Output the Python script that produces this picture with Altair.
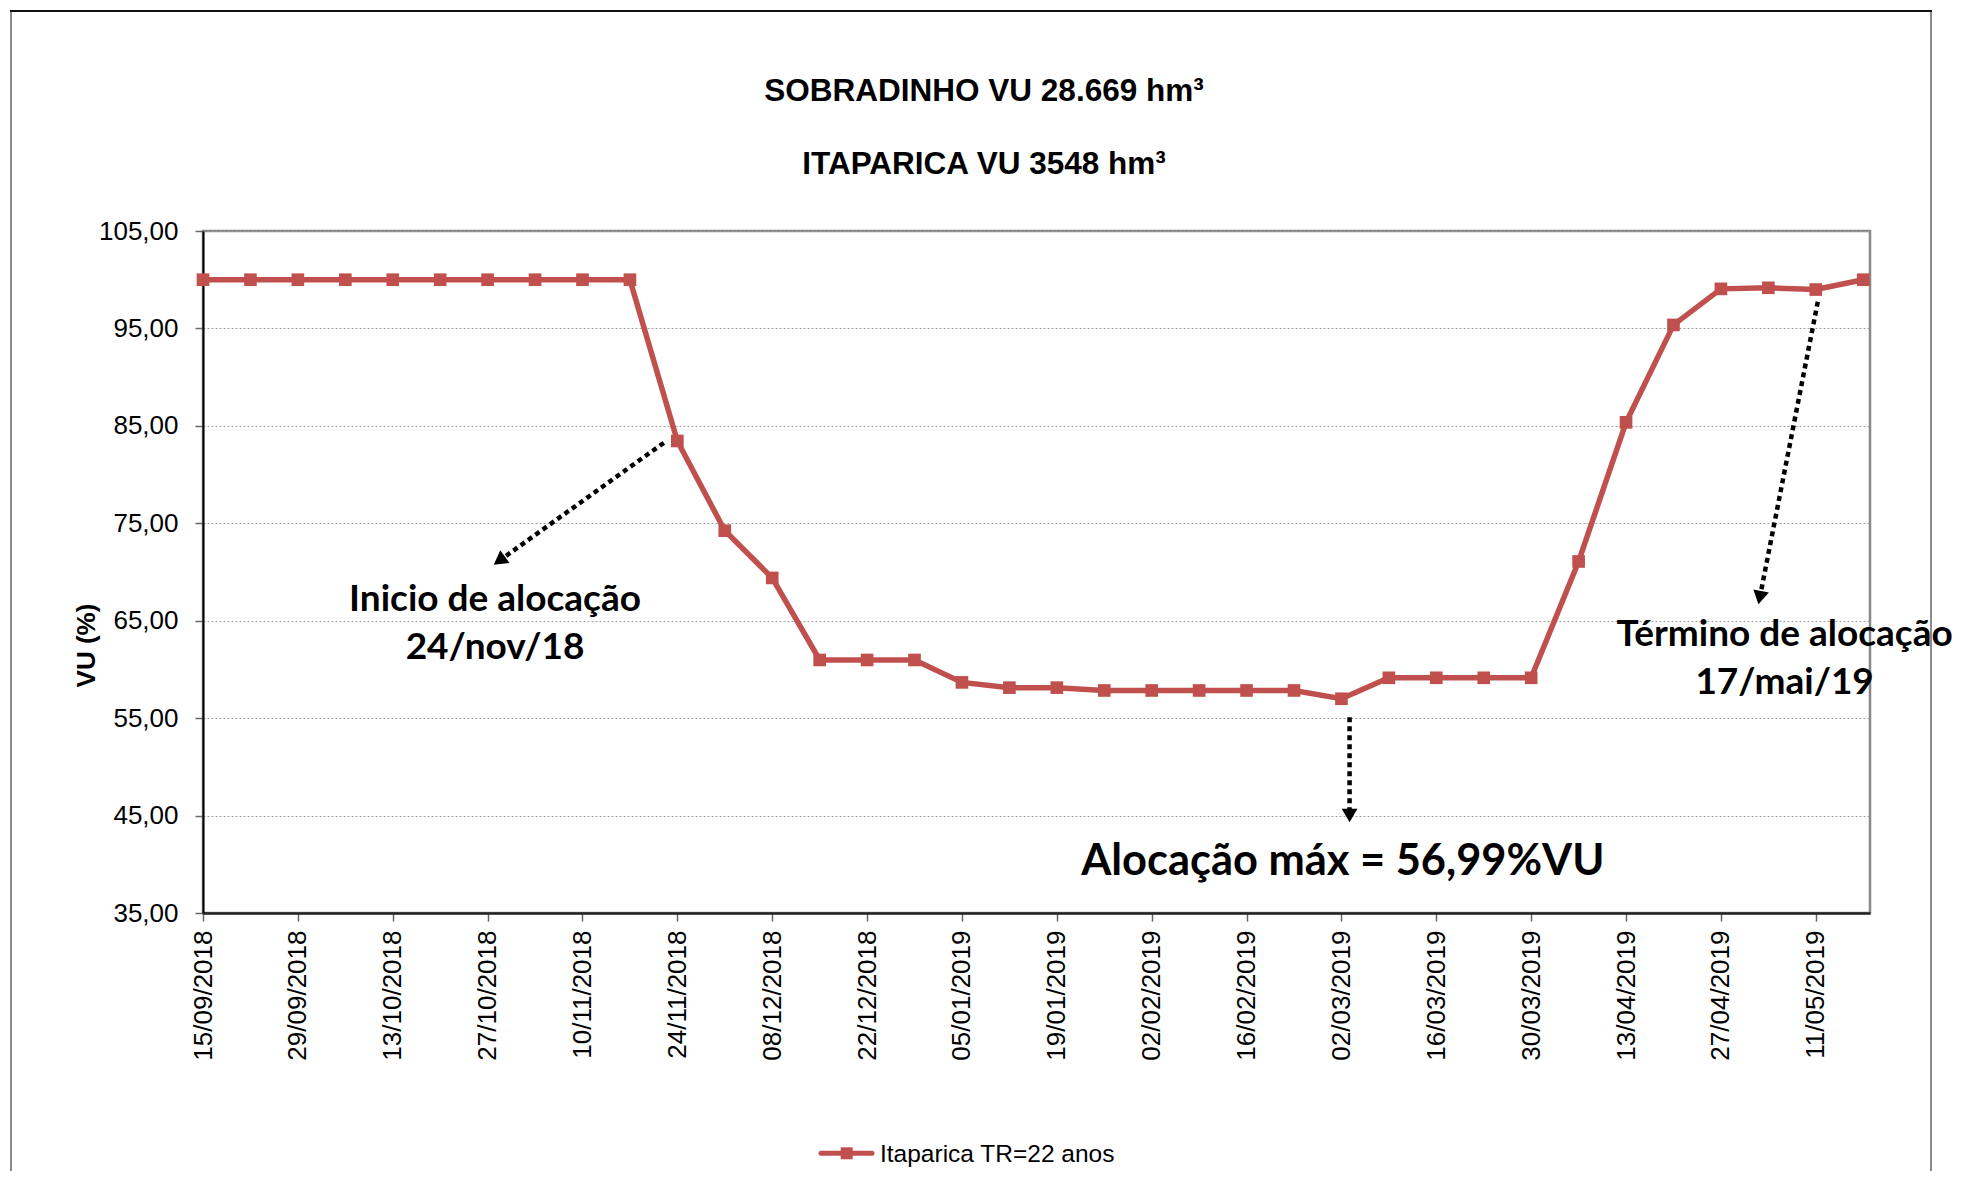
import math
import altair as alt
import pandas as pd

# ---------------- data ----------------
titulo_1 = "SOBRADINHO VU 28.669 hm³"
titulo_2 = "ITAPARICA VU 3548 hm³"
serie = "Itaparica TR=22 anos"
eixo_y = "VU (%)"

datas = [
    "15/09/2018", "22/09/2018", "29/09/2018", "06/10/2018", "13/10/2018", "20/10/2018",
    "27/10/2018", "03/11/2018", "10/11/2018", "17/11/2018", "24/11/2018", "01/12/2018",
    "08/12/2018", "15/12/2018", "22/12/2018", "29/12/2018", "05/01/2019", "12/01/2019",
    "19/01/2019", "26/01/2019", "02/02/2019", "09/02/2019", "16/02/2019", "23/02/2019",
    "02/03/2019", "09/03/2019", "16/03/2019", "23/03/2019", "30/03/2019", "06/04/2019",
    "13/04/2019", "20/04/2019", "27/04/2019", "04/05/2019", "11/05/2019", "18/05/2019",
]
vu = [
    100.0, 100.0, 100.0, 100.0, 100.0, 100.0, 100.0, 100.0, 100.0, 100.0,
    83.45, 74.24, 69.39, 60.97, 60.97, 60.97, 58.67, 58.13, 58.13,
    57.84, 57.84, 57.84, 57.84, 57.84, 56.99,
    59.14, 59.14, 59.14, 59.14, 71.08, 85.36, 95.36, 99.06, 99.17, 98.99, 100.0,
]
rotulos_x = datas[::2]
y_ticks = [35, 45, 55, 65, 75, 85, 95, 105]

# annotations (data coordinates: days since first date, VU %)
ann_textos = ["Inicio de alocação\n24/nov/18", "Término de alocação\n17/mai/19"]
ann_dia = [43.1, 233.4]
ann_vu = [66.0, 62.4]

max_texto = ["Alocação máx = 56,99%VU"]
max_dia = [168.2]
max_vu = [38.9]

seta_dia_ini = [68.0, 169.2, 238.3]
seta_vu_ini = [83.26, 55.1, 97.74]
seta_dia_fim = [44.0, 169.2, 229.8]
seta_vu_fim = [71.3, 45.24, 67.6]

# ---------------- tables ----------------
inicio = pd.to_datetime(datas[0], format="%d/%m/%Y")
dias = [(pd.to_datetime(d, format="%d/%m/%Y") - inicio).days for d in datas]
df = pd.DataFrame({"dia": dias, "vu": vu, "data": datas, "serie": serie})

W, H = 1667, 682
X_MAX = dias[-1] + 1
Y_MIN, Y_MAX = 35, 105
ppd = W / X_MAX
ppu = H / (Y_MAX - Y_MIN)

angulos = []
for a, b, c, d in zip(seta_dia_ini, seta_vu_ini, seta_dia_fim, seta_vu_fim):
    dx = (c - a) * ppd
    dy = -(d - b) * ppu
    angulos.append(math.degrees(math.atan2(dx, -dy)) % 360)

setas = pd.DataFrame({
    "dia": seta_dia_ini, "vu": seta_vu_ini,
    "dia2": seta_dia_fim, "vu2": seta_vu_fim, "ang": angulos,
})
pontas = pd.DataFrame({"dia": seta_dia_fim, "vu": seta_vu_fim, "ang": angulos})
ann_df = pd.DataFrame({"dia": ann_dia, "vu": ann_vu, "texto": ann_textos})
max_df = pd.DataFrame({"dia": max_dia, "vu": max_vu, "texto": max_texto})
um = pd.DataFrame({"serie": [serie], "t1": [titulo_1], "t2": [titulo_2]})

RED = "#C0504D"
x_scale = alt.Scale(domain=[0, X_MAX], nice=False, zero=False)
y_scale = alt.Scale(domain=[Y_MIN, Y_MAX], nice=False, zero=False)

label_expr_x = "[" + ",".join(f"'{d}'" for d in rotulos_x) + "][round(datum.value/14)]"

x_axis = alt.Axis(
    values=list(range(0, dias[-1], 14)), labelExpr=label_expr_x,
    labelAngle=270, labelAlign="right", labelBaseline="middle",
    labelFontSize=26, labelPadding=9, labelColor="black", labelOverlap=False,
    labelFont="Liberation Sans",
    tickSize=8, tickColor="#666666", tickWidth=1.5,
    domainColor="#222222", domainWidth=2.5, grid=False, title=None,
)
y_axis = alt.Axis(
    values=y_ticks, labelExpr="replace(format(datum.value, '.2f'), '.', ',')",
    labelFontSize=26, labelPadding=17, labelColor="black", labelFont="Liberation Sans",
    tickSize=8, tickColor="#666666", tickWidth=1.5,
    domainColor="black", domainWidth=2,
    grid=True, gridColor="#a0a0a0", gridDash=[2, 2], gridWidth=1,
    title=eixo_y, titleFontSize=26, titleFontWeight="bold", titleFont="Liberation Sans",
    titleAngle=270, titleX=-117, titleY=414, titleAlign="center",
    titleBaseline="middle", titleColor="black",
)


def xy(src):
    return dict(
        x=alt.X("dia:Q", scale=x_scale, axis=x_axis),
        y=alt.Y("vu:Q", scale=y_scale, axis=y_axis),
    )


# outer chart frame (decoration)
moldura = alt.Chart(um).mark_rect(fill=None, stroke="#8c8c8c", strokeWidth=2).encode(
    x=alt.value(-192), x2=alt.value(1728), y=alt.value(-220), y2=alt.value(1000)
)
moldura_topo = alt.Chart(um).mark_rule(color="#111111", strokeWidth=2).encode(
    x=alt.value(-193), x2=alt.value(1729), y=alt.value(-220)
)

linha = alt.Chart(df).mark_line(color=RED, strokeWidth=5.5).encode(**xy(df))
pontos = alt.Chart(df).mark_point(
    shape="square", filled=True, size=160, color=RED, opacity=1
).encode(**xy(df))

seta_linhas = alt.Chart(setas).mark_rule(
    color="black", strokeWidth=4.5, strokeDash=[5, 4]
).encode(**xy(setas), x2="dia2:Q", y2="vu2:Q")
seta_pontas = alt.Chart(pontas).mark_point(
    shape="triangle", filled=True, size=250, color="black", opacity=1
).encode(**xy(pontas), angle=alt.Angle("ang:Q", scale=None))

ann = alt.Chart(ann_df).mark_text(
    font="Lato", fontWeight="bold", fontSize=37, lineBreak="\n", lineHeight=48,
    align="center", baseline="alphabetic", color="black",
).encode(**xy(ann_df), text="texto:N")
ann_max = alt.Chart(max_df).mark_text(
    font="Lato", fontWeight="bold", fontSize=43.4,
    align="center", baseline="alphabetic", color="black",
).encode(**xy(max_df), text="texto:N")

# titles
tit1 = alt.Chart(um).mark_text(
    font="Liberation Sans", fontWeight="bold", fontSize=31.5, align="center",
    baseline="alphabetic", color="black",
).encode(x=alt.value(781), y=alt.value(-130), text="t1:N")
tit2 = alt.Chart(um).mark_text(
    font="Liberation Sans", fontWeight="bold", fontSize=31.5, align="center",
    baseline="alphabetic", color="black",
).encode(x=alt.value(781), y=alt.value(-57.5), text="t2:N")

# legend (drawn)
leg_linha = alt.Chart(um).mark_rule(color=RED, strokeWidth=5, strokeCap="round").encode(
    x=alt.value(618), x2=alt.value(669), y=alt.value(922.3)
)
leg_ponto = alt.Chart(um).mark_point(
    shape="square", filled=True, size=144, color=RED, opacity=1
).encode(x=alt.value(643.7), y=alt.value(922.3))
leg_texto = alt.Chart(um).mark_text(
    font="Liberation Sans", fontSize=24.5, align="left", baseline="alphabetic", color="black"
).encode(x=alt.value(677), y=alt.value(930.7), text="serie:N")

chart = alt.layer(
    moldura, moldura_topo, linha, pontos, seta_linhas, seta_pontas,
    ann, ann_max, tit1, tit2, leg_linha, leg_ponto, leg_texto,
).properties(
    width=W, height=H,
    autosize=alt.AutoSizeParams(type="none"),
    padding={"left": 195, "top": 223, "right": 89, "bottom": 258},
).configure(
    font="Liberation Sans", background="white"
).configure_view(
    stroke="#888888", strokeWidth=2.5
)

chart.save("out.html", embed_options={"renderer": "svg", "actions": False})
